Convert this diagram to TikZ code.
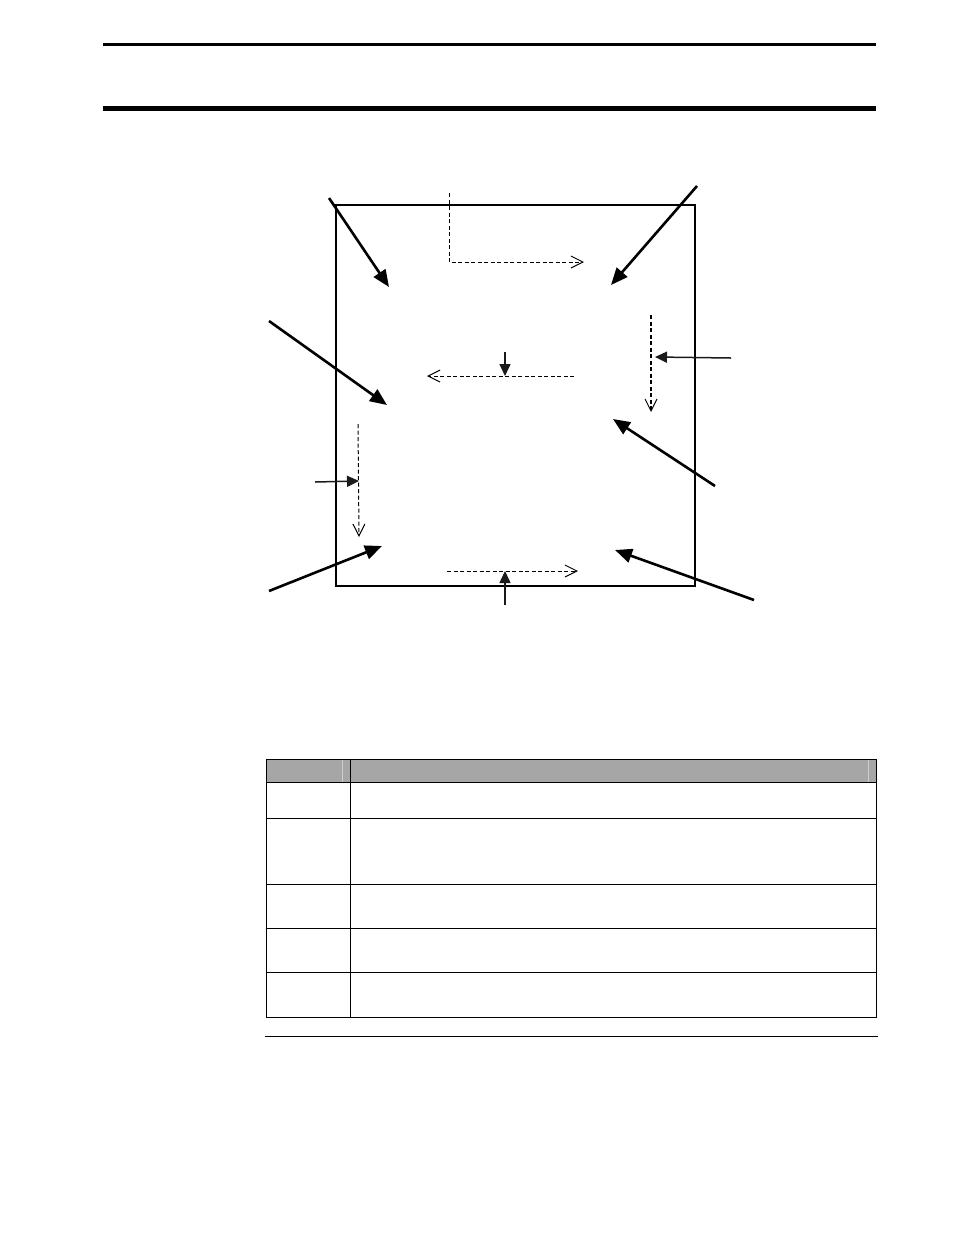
\documentclass[tikz,border=0pt]{standalone}
\usetikzlibrary{arrows.meta}
\definecolor{hdrgray}{HTML}{A6A6A6}
\definecolor{hdrlight}{HTML}{CFCFCF}
\definecolor{thingray}{HTML}{1A1A1A}
\tikzset{
  bigarrow/.style={line width=2.6pt,-{Triangle[length=17pt,width=14pt]}},
  smallarrow/.style={line width=1.5pt,draw=thingray,-{Triangle[length=12pt,width=11pt]}},
  flowarrow/.style={line width=1pt,dash pattern=on 4pt off 2.5pt,-{Straight Barb[length=12pt,width=12pt,line width=1pt]}},
  rule/.style={line width=1pt},
}
\begin{document}
\begin{tikzpicture}[x=1pt,y=-1pt]
\useasboundingbox (0,0) rectangle (954,1235);
% header rules
\fill (103,43) rectangle (876,45.5);
\fill (103,105.7) rectangle (876,111);
% main box
\draw[line width=1.1pt] (336,205) rectangle (695,586);
% big arrows
\coordinate (a1s) at (329,198); \coordinate (a1e) at (389,287);
\coordinate (a2s) at (697,186); \coordinate (a2e) at (611,285);
\coordinate (a3s) at (269,321); \coordinate (a3e) at (387,405);
\coordinate (a4s) at (715,486); \coordinate (a4e) at (613,419);
\coordinate (a5s) at (269,591); \coordinate (a5e) at (382,546);
\coordinate (a6s) at (754,600); \coordinate (a6e) at (615,550);
\draw[bigarrow] (a1s) -- (a1e);
\draw[bigarrow] (a2s) -- (a2e);
\draw[bigarrow] (a3s) -- (a3e);
\draw[bigarrow] (a4s) -- (a4e);
\draw[bigarrow] (a5s) -- (a5e);
\draw[bigarrow] (a6s) -- (a6e);
% small arrows
\coordinate (s1s) at (731,358); \coordinate (s1e) at (655,357);
\coordinate (s2s) at (505,352); \coordinate (s2e) at (505,376);
\coordinate (s3s) at (315,482); \coordinate (s3e) at (359,481);
\coordinate (s4s) at (505,605); \coordinate (s4e) at (505,571);
\draw[smallarrow] (s1s) -- (s1e);
\draw[smallarrow] (s2s) -- (s2e);
\draw[smallarrow] (s3s) -- (s3e);
\draw[smallarrow] (s4s) -- (s4e);
% dashed flow arrows
\coordinate (f1s) at (449,193); \coordinate (f1c) at (449,262); \coordinate (f1e) at (584,262);
\coordinate (f2s) at (574,376); \coordinate (f2e) at (427,376);
\coordinate (f3s) at (651,315); \coordinate (f3e) at (651,412);
\coordinate (f4s) at (358,424); \coordinate (f4e) at (359,537);
\coordinate (f5s) at (447,571); \coordinate (f5e) at (578,571);
\draw[flowarrow] (f1s) -- (f1c) -- (f1e);
\draw[flowarrow] (f2s) -- (f2e);
\draw[flowarrow,line width=1.5pt] (f3s) -- (f3e);
\draw[flowarrow] (f4s) -- (f4e);
\draw[flowarrow] (f5s) -- (f5e);
% table
\fill[hdrgray] (266,759.5) rectangle (876,782);
\draw[hdrlight,line width=1pt] (342.3,760) -- (342.3,782);
\draw[hdrlight,line width=1pt] (868.7,760) -- (868.7,782);
\draw[rule] (266,759.5) rectangle (876,1017);
\draw[rule] (350.5,759.5) -- (350.5,1017);
\foreach \yy in {782,818,884,928,972}
  \draw[rule] (266,\yy) -- (876,\yy);
\draw[rule] (265,1036) -- (877.5,1036);
\end{tikzpicture}
\end{document}
